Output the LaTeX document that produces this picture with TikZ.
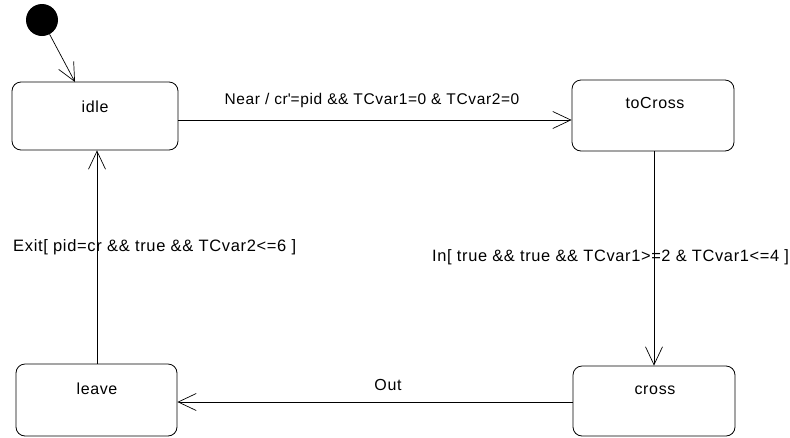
\documentclass[tikz,border=0pt]{standalone}
\usepackage{fontspec}
\setmainfont{Liberation Sans}[LetterSpace=4]
\usetikzlibrary{arrows.meta}
\begin{document}
\begin{tikzpicture}[x=1pt,y=-1pt,
  statebox/.style={draw,line width=0.8pt,rounded corners=9pt,inner sep=0pt},
  txt/.style={inner sep=0pt,font=\fontsize{16}{18}\selectfont},
  conn/.style={line width=0.7pt,-{Straight Barb[length=18pt,width=17pt,line width=0.7pt]}}]
\useasboundingbox (0,0) rectangle (790,437);
% states
\node[statebox,minimum width=166pt,minimum height=68pt] (idle) at (95,116) {};
\node[statebox,minimum width=162pt,minimum height=71pt] (toCross) at (653,115.5) {};
\node[statebox,minimum width=162pt,minimum height=70pt] (cross) at (654,401) {};
\node[statebox,minimum width=161pt,minimum height=72pt] (leave) at (96.5,400) {};
\node[txt] (idleT) at (95,107) {idle};
\node[txt] (toCrossT) at (655,103) {toCross};
\node[txt] (crossT) at (655,390) {cross};
\node[txt] (leaveT) at (97,389) {leave};
% initial
\node[circle,fill=black,minimum size=32pt,inner sep=0pt] (init) at (42,20) {};
\coordinate (idleIn) at (75,82);
\draw[conn] (init) -- (idleIn);
% transitions
\draw[conn] (idle.east |- 0,120) -- (toCross.west |- 0,120);
\draw[conn] (toCross.south -| 654,0) -- (cross.north -| 654,0);
\draw[conn] (cross.west |- 0,402) -- (leave.east |- 0,402);
\draw[conn] (leave.north -| 97,0) -- (idle.south -| 97,0);
% labels
\node[txt,font=\fontsize{15.5}{18}\selectfont] (lNear) at (372,100) {Near / cr\textquotesingle=pid \&\& TCvar1=0 \& TCvar2=0};
\node[txt,anchor=west,font=\fontsize{16.4}{18}\selectfont] (lIn) at (432,257) {In[ true \&\& true \&\& TCvar1>=2 \& TCvar1<=4 ]};
\node[txt,anchor=west,font=\fontsize{16.5}{18}\selectfont] (lExit) at (13,247) {Exit[ pid=cr \&\& true \&\& TCvar2<=6 ]};
\node[txt] (lOut) at (388,385) {Out};
\end{tikzpicture}
\end{document}
